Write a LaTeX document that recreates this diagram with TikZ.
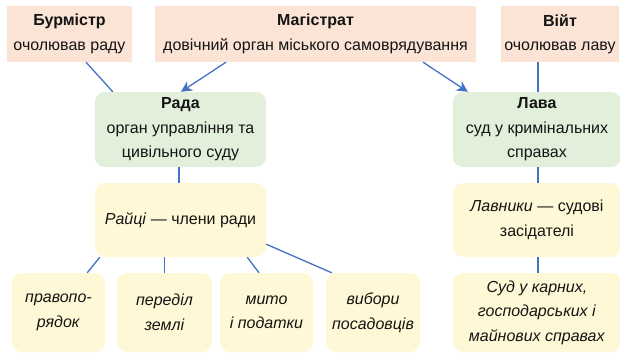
\documentclass[tikz,border=0pt]{standalone}
\usepackage{fontspec}
\setmainfont{Liberation Sans}
\usetikzlibrary{arrows.meta}
\definecolor{pinkf}{RGB}{251,228,214}
\definecolor{greenf}{RGB}{226,239,218}
\definecolor{yellowf}{RGB}{255,248,214}
\definecolor{lineblue}{RGB}{68,114,196}
\definecolor{txt}{RGB}{20,20,20}
\begin{document}
\begin{tikzpicture}[x=1pt,y=-1pt,
  base/.style={inner sep=0pt, align=center, text=txt, font=\fontsize{16}{24.5}\selectfont},
  topbox/.style={base, fill=pinkf, minimum height=56pt},
  greenbox/.style={base, fill=greenf, rounded corners=10pt, minimum height=75pt},
  yellowbox/.style={base, fill=yellowf, rounded corners=10pt},
  link/.style={draw=lineblue, line width=1.3pt},
  arr/.style={link, -{Stealth[length=11pt,width=11pt]}}]
\useasboundingbox (0,0) rectangle (620,353);
% top row
\node[topbox, minimum width=125pt] (burm) at (69.5,34) {\textbf{Бурмістр}\\очолював раду};
\node[topbox, minimum width=321pt] (mag) at (315.5,34) {\textbf{Магістрат}\\довічний орган міського самоврядування};
\node[topbox, minimum width=118pt] (viyt) at (560,34) {\textbf{Війт}\\очолював лаву};
% second row
\node[greenbox, minimum width=171pt] (rada) at (180.5,129.5) {\textbf{Рада}\\орган управління та\\цивільного суду};
\node[greenbox, minimum width=168pt] (lava) at (537,129.5) {\textbf{Лава}\\суд у кримінальних\\справах};
% third row
\node[yellowbox, minimum width=171pt, minimum height=74pt] (raici) at (180.5,220) {\textit{Райці} — члени ради};
\node[yellowbox, minimum width=168pt, minimum height=74pt] (lavn) at (537,220) {\textit{Лавники} — судові\\засідателі};
% bottom row
\node[yellowbox, minimum width=93pt, minimum height=79pt] (b1) at (58.5,312.5) {\textit{правопо-}\\\textit{рядок}};
\node[yellowbox, minimum width=95pt, minimum height=79pt] (b2) at (164.5,312.5) {\textit{переділ}\\\textit{землі}};
\node[yellowbox, minimum width=93pt, minimum height=79pt] (b3) at (266.5,312.5) {\textit{мито}\\\textit{і податки}};
\node[yellowbox, minimum width=94pt, minimum height=79pt] (b4) at (373,312.5) {\textit{вибори}\\\textit{посадовців}};
\node[yellowbox, minimum width=168pt, minimum height=79pt] (sud) at (537,312.5) {\textit{Суд у карних,}\\\textit{господарських і}\\\textit{майнових справах}};
% connectors
\draw[link] ([xshift=16.5pt]burm.south) -- ([xshift=18pt]rada.north west);
\draw[arr] ([xshift=-89.5pt]mag.south) -- ([xshift=0.5pt]rada.north);
\draw[arr] ([xshift=107.5pt]mag.south) -- ([xshift=15pt]lava.north west);
\draw[link] ([xshift=-22pt]viyt.south) -- ([xshift=1pt]lava.north);
\draw[link] ([xshift=-1.5pt]rada.south) -- ([xshift=-1.5pt]raici.north);
\draw[link] ([xshift=1pt]lava.south) -- ([xshift=1pt]lavn.north);
\draw[link] ([xshift=1pt]lavn.south) -- ([xshift=1pt]sud.north);
\draw[link] ([xshift=5pt]raici.south west) -- ([xshift=-18pt]b1.north east);
\draw[link] (raici.south -| b2.north) -- (b2.north);
\draw[link] ([xshift=-19pt]raici.south east) -- ([xshift=-7.5pt]b3.north);
\draw[link] ([yshift=13pt]raici.south east) -- ([xshift=6pt]b4.north west);
\end{tikzpicture}
\end{document}
